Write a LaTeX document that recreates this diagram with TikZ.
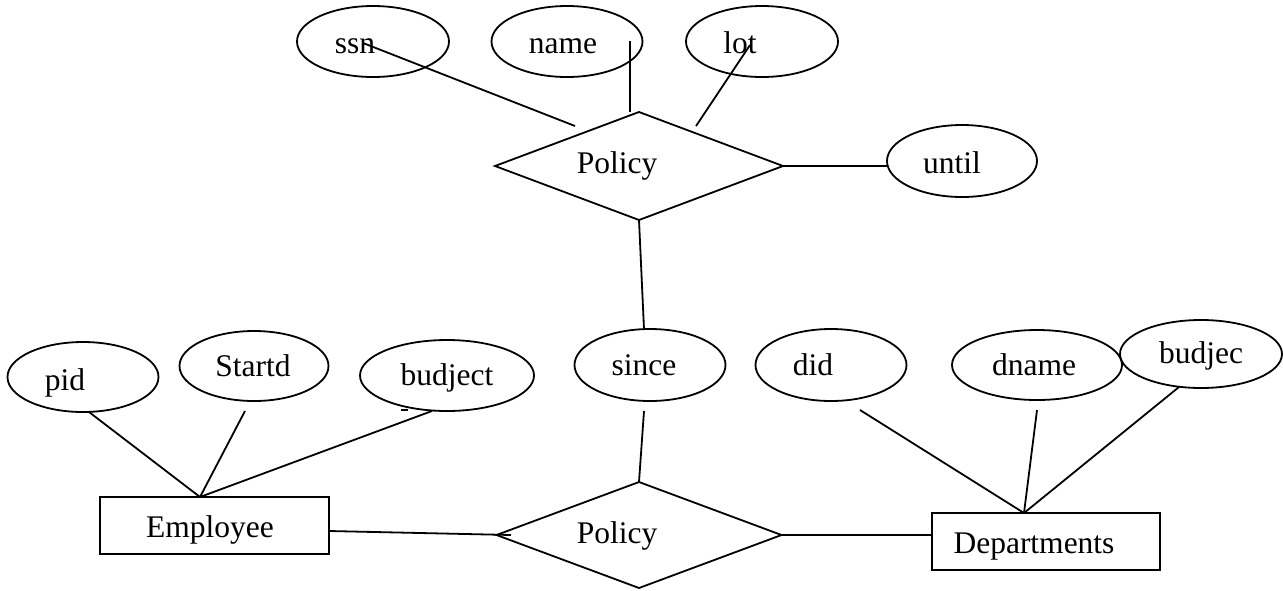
\documentclass[tikz,border=0pt]{standalone}
\usepackage{fontspec}
\setmainfont{Liberation Serif}
\usetikzlibrary{shapes.geometric}
\tikzset{
  lw/.style={line width=1.8pt},
  attr/.style={lw, draw, ellipse, inner sep=0pt, outer sep=0pt},
  rel/.style={lw, draw, diamond, inner sep=0pt, outer sep=0pt},
  ent/.style={lw, draw, rectangle, inner sep=0pt, outer sep=0pt, minimum width=229pt, minimum height=57pt},
  lbl/.style={inner sep=0pt, anchor=base, font=\fontsize{31.5}{36}\selectfont},
  link/.style={lw},
}
\begin{document}
\begin{tikzpicture}[x=1pt,y=-1pt]
\useasboundingbox (0,0) rectangle (1283,590);

% upper relationship and its attributes
\node[attr, minimum width=152pt, minimum height=71pt] (ssn)   at (373,41.5) {};
\node[attr, minimum width=151pt, minimum height=71pt] (name)  at (567,41.5) {};
\node[attr, minimum width=152pt, minimum height=71pt] (lot)   at (762,41.5) {};
\node[attr, minimum width=150pt, minimum height=72pt] (until) at (962,161) {};
\node[rel, minimum width=288pt, minimum height=108pt] (topdia) at (639,166) {};

\node[lbl] (ssnT)   at (355,53)  {ssn};
\node[lbl] (nameT)  at (563,53)  {name};
\node[lbl] (lotT)   at (740,53)  {lot};
\node[lbl] (untilT) at (952,173) {until};
\node[lbl] (topT)   at (617,173) {Policy};

% lower attributes
\node[attr, minimum width=151pt, minimum height=70pt] (pid)     at (83,377) {};
\node[attr, minimum width=149pt, minimum height=70pt] (startd)  at (254,366) {};
\node[attr, minimum width=174pt, minimum height=71pt] (budject) at (447,375.5) {};
\node[attr, minimum width=151pt, minimum height=72pt] (since)   at (650,365) {};
\node[attr, minimum width=151pt, minimum height=72pt] (did)     at (831,365) {};
\node[attr, minimum width=170pt, minimum height=70pt] (dname)   at (1037,365) {};
\node[attr, minimum width=162pt, minimum height=68pt] (budjec)  at (1201,354) {};

\node[lbl] (pidT)     at (65,390)   {pid};
\node[lbl] (startdT)  at (253,376)  {Startd};
\node[lbl] (budjectT) at (447,385)  {budject};
\node[lbl] (sinceT)   at (644,375)  {since};
\node[lbl] (didT)     at (813,375)  {did};
\node[lbl] (dnameT)   at (1034,375) {dname};
\node[lbl] (budjecT)  at (1201,363) {budjec};

% lower relationship and entities
\node[rel, minimum width=285pt, minimum height=106pt] (botdia) at (639,535) {};
\node[ent] (emp)  at (214.5,525.5) {};
\node[ent, minimum width=228pt] (dept) at (1046,541.5) {};

\node[lbl] (botT)  at (617,543)  {Policy};
\node[lbl] (empT)  at (210,537)  {Employee};
\node[lbl] (deptT) at (1034,553) {Departments};

% connector end points
\coordinate (ssnA)    at (363,43);
\coordinate (ssnB)    at (575,126);
\coordinate (nameA)   at (630,41);
\coordinate (nameB)   at (630,112);
\coordinate (lotA)    at (750,45);
\coordinate (lotB)    at (696,126);
\coordinate (sinceTop) at (644,329);
\coordinate (sinceB)  at (644,411);
\coordinate (empTop)  at (200,497);
\coordinate (pidA)    at (89,412);
\coordinate (startdA) at (245,411);
\coordinate (budjectA) at (432,411);
\coordinate (empR)    at (329,531);
\coordinate (empEnd)  at (511,535);
\coordinate (deptTop) at (1024,513);
\coordinate (didA)    at (860,410);
\coordinate (dnameA)  at (1037,410);
\coordinate (budjecA) at (1179,387);
\coordinate (dashA)   at (401,410);
\coordinate (dashB)   at (408,410);

% connectors
\draw[link] (ssnA) -- (ssnB);
\draw[link] (nameA) -- (nameB);
\draw[link] (lotA) -- (lotB);
\draw[link] (topdia.east) -- (topdia.east -| until.west);
\draw[link] (topdia.south) -- (sinceTop);
\draw[link] (sinceB) -- (botdia.north);
\draw[link] (pidA) -- (empTop);
\draw[link] (startdA) -- (empTop);
\draw[link] (budjectA) -- (empTop);
\draw[link] (empR) -- (empEnd);
\draw[link] (botdia.east) -- (botdia.east -| dept.west);
\draw[link] (didA) -- (deptTop);
\draw[link] (dnameA) -- (deptTop);
\draw[link] (budjecA) -- (deptTop);
\draw[line width=1.4pt] (dashA) -- (dashB);
\end{tikzpicture}
\end{document}
